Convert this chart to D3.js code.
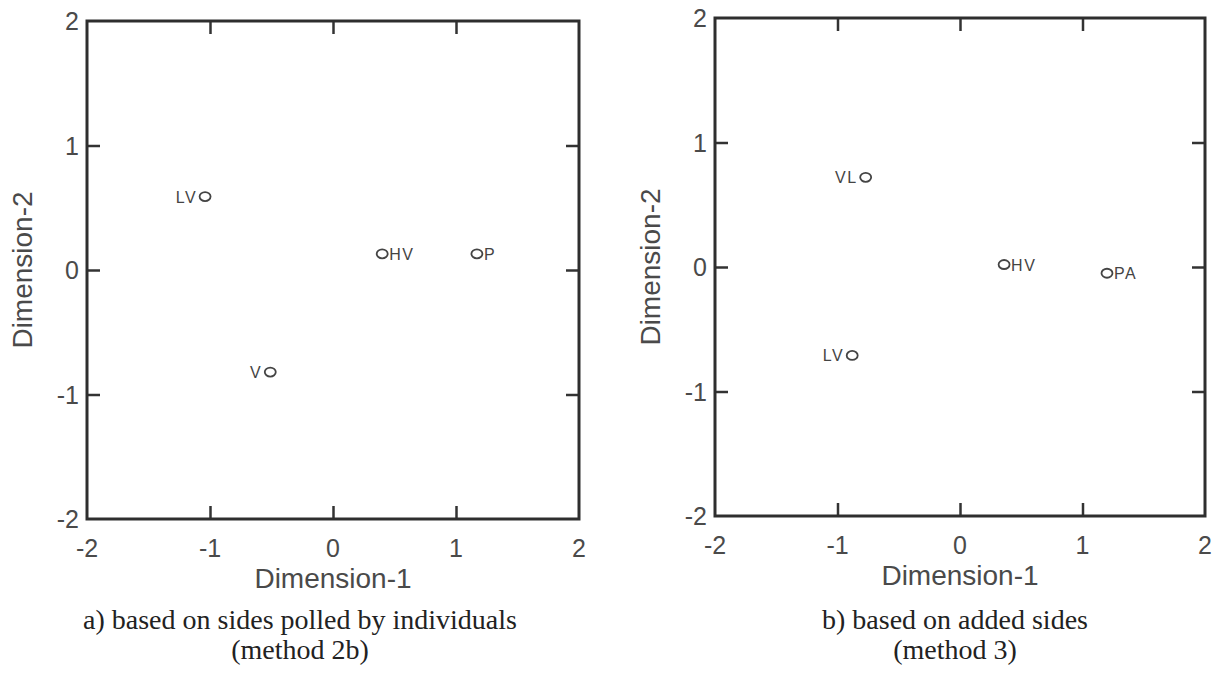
<!DOCTYPE html>
<html>
<head>
<meta charset="utf-8">
<script src="https://cdn.jsdelivr.net/npm/d3@7"></script>
<style>
  body { margin: 0; background: #fff; }
  .tick-label { font-family: "Liberation Sans", Arial, sans-serif; font-size: 25px; fill: #4a4a4a; }
  .axis-title { font-family: "Liberation Sans", Arial, sans-serif; font-size: 28px; fill: #4a4a4a; }
  .pt-label { font-family: "Liberation Sans", Arial, sans-serif; font-size: 16px; fill: #444; letter-spacing: 1.5px; }
  .caption { font-family: "Liberation Serif", "Times New Roman", serif; font-size: 28px; fill: #222; }
</style>
</head>
<body>
<script>
// tick values, same on both axes
var tickVals = [-2, -1, 0, 1, 2];

// panel a) method 2b
var namesA = ["LV", "V", "HV", "P"];
var dim1A = [-1.04, -0.51, 0.40, 1.17];
var dim2A = [0.59, -0.82, 0.13, 0.13];
var sideA = ["left", "left", "right", "right"];

// panel b) method 3
var namesB = ["VL", "HV", "PA", "LV"];
var dim1B = [-0.77, 0.36, 1.20, -0.88];
var dim2B = [0.72, 0.02, -0.05, -0.71];
var sideB = ["left", "right", "right", "left"];

var captionsA = ["a) based on sides polled by individuals", "(method 2b)"];
var captionsB = ["b) based on added sides", "(method 3)"];

var svg = d3.select("body").append("svg")
    .attr("width", 1219)
    .attr("height", 679);

function drawPanel(p) {
  var x = d3.scaleLinear().domain([-2, 2]).range([p.left, p.right]);
  var y = d3.scaleLinear().domain([-2, 2]).range([p.bottom, p.top]);
  var g = svg.append("g");
  var tickLen = 13;

  // inner ticks on all four sides (skip the corners)
  var inner = tickVals.slice(1, -1);
  g.append("g").attr("transform", "translate(0," + p.bottom + ")")
    .call(d3.axisTop(x).tickValues(inner).tickSize(tickLen).tickFormat(""));
  g.append("g").attr("transform", "translate(0," + p.top + ")")
    .call(d3.axisBottom(x).tickValues(inner).tickSize(tickLen).tickFormat(""));
  g.append("g").attr("transform", "translate(" + p.left + ",0)")
    .call(d3.axisRight(y).tickValues(inner).tickSize(tickLen).tickFormat(""));
  g.append("g").attr("transform", "translate(" + p.right + ",0)")
    .call(d3.axisLeft(y).tickValues(inner).tickSize(tickLen).tickFormat(""));
  g.selectAll(".domain").remove();
  g.selectAll(".tick line").attr("stroke", "#333").attr("stroke-width", 2.5);

  // frame
  g.append("rect")
    .attr("x", p.left).attr("y", p.top)
    .attr("width", p.right - p.left).attr("height", p.bottom - p.top)
    .attr("fill", "none").attr("stroke", "#2e2e2e").attr("stroke-width", 3);

  // tick labels
  g.selectAll(".xlab").data(tickVals).enter().append("text")
    .attr("class", "tick-label")
    .attr("x", function(d) { return x(d); })
    .attr("y", p.bottom + 38)
    .attr("text-anchor", "middle")
    .text(function(d) { return d; });
  g.selectAll(".ylab").data(tickVals).enter().append("text")
    .attr("class", "tick-label")
    .attr("x", p.left - 8)
    .attr("y", function(d) { return y(d) + 9; })
    .attr("text-anchor", "end")
    .text(function(d) { return d; });

  // axis titles
  g.append("text").attr("class", "axis-title")
    .attr("x", (p.left + p.right) / 2).attr("y", p.bottom + 69)
    .attr("text-anchor", "middle")
    .text("Dimension-1");
  g.append("text").attr("class", "axis-title")
    .attr("transform", "translate(" + (p.left - 55) + "," + ((p.top + p.bottom) / 2) + ") rotate(-90)")
    .attr("text-anchor", "middle")
    .text("Dimension-2");

  // points
  var pts = p.names.map(function(n, i) {
    return { name: n, d1: p.dim1[i], d2: p.dim2[i], side: p.side[i] };
  });
  var pt = g.selectAll(".pt").data(pts).enter().append("g");
  pt.append("ellipse")
    .attr("cx", function(d) { return x(d.d1); })
    .attr("cy", function(d) { return y(d.d2); })
    .attr("rx", 5.5).attr("ry", 4.5)
    .attr("fill", "none").attr("stroke", "#444").attr("stroke-width", 1.8);
  pt.append("text").attr("class", "pt-label")
    .attr("x", function(d) { return x(d.d1) + (d.side == "left" ? -8 : 7); })
    .attr("y", function(d) { return y(d.d2) + 6; })
    .attr("text-anchor", function(d) { return d.side == "left" ? "end" : "start"; })
    .text(function(d) { return d.name; });

  // caption
  g.selectAll(".cap").data(p.captions).enter().append("text")
    .attr("class", "caption")
    .attr("x", p.capX)
    .attr("y", function(d, i) { return 629 + i * 30; })
    .attr("text-anchor", "middle")
    .text(function(d) { return d; });
}

drawPanel({ left: 87, right: 579, top: 21, bottom: 519,
  names: namesA, dim1: dim1A, dim2: dim2A, side: sideA, captions: captionsA, capX: 300 });
drawPanel({ left: 715, right: 1205, top: 18, bottom: 516,
  names: namesB, dim1: dim1B, dim2: dim2B, side: sideB, captions: captionsB, capX: 955 });
</script>
</body>
</html>
